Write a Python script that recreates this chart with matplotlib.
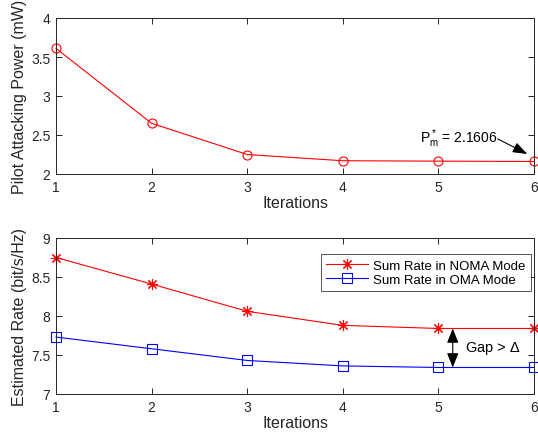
import matplotlib
matplotlib.use('Agg')
import matplotlib.pyplot as plt
import numpy as np

plt.rcParams['font.family'] = ['Liberation Sans', 'DejaVu Sans']
plt.rcParams['mathtext.fontset'] = 'custom'
plt.rcParams['mathtext.rm'] = 'Liberation Sans'
plt.rcParams['mathtext.it'] = 'Liberation Sans'

# datos
iteraciones = [1, 2, 3, 4, 5, 6]
potencia = [3.61, 2.65, 2.25, 2.17, 2.165, 2.1606]
tasa_noma = [8.75, 8.41, 8.06, 7.88, 7.84, 7.84]
tasa_oma = [7.73, 7.58, 7.43, 7.36, 7.34, 7.34]

gris = '#262626'
W, H = 538, 439

fig = plt.figure(figsize=(W / 100, H / 100), dpi=100)

def ejes(y0, y1):
    # posicion en pixeles -> fraccion de figura
    return fig.add_axes([56 / W, 1 - y1 / H, (534 - 56) / W, (y1 - y0) / H])

def estilo(ax):
    for s in ax.spines.values():
        s.set_color(gris)
        s.set_linewidth(0.7)
    ax.tick_params(direction='in', top=True, right=True, length=4,
                   width=0.7, colors=gris, labelsize=10, pad=4)
    ax.set_xlim(1, 6)
    ax.set_xticks(iteraciones)
    ax.set_xlabel('Iterations', fontsize=11.5, color=gris, labelpad=1)

flecha = '-|>,head_length=0.55,head_width=0.2'
flecha_doble = '<|-|>,head_length=0.55,head_width=0.22'

# grafica de arriba
ax1 = ejes(19, 175)
ax1.plot(iteraciones, potencia, color='r', lw=0.8, marker='o', ms=6.5,
         mfc='none', mec='r', mew=0.8, clip_on=False)
ax1.set_ylim(2, 4)
ax1.set_yticks([2, 2.5, 3, 3.5, 4])
ax1.set_yticklabels(['2', '2.5', '3', '3.5', '4'])
ax1.set_ylabel('Pilot Attacking Power (mW)', fontsize=11.5, color=gris, labelpad=3)
estilo(ax1)
ax1.text(5.62, 2.47, r'P$_m^*$ = 2.1606', ha='right', va='center',
         fontsize=10, color='k')
ax1.annotate('', xy=(5.93, 2.256), xytext=(5.62, 2.45),
             arrowprops=dict(arrowstyle=flecha, color='k', lw=0.8,
                             mutation_scale=16, shrinkA=0, shrinkB=0))

# grafica de abajo
ax2 = ejes(239, 395)
ax2.plot(iteraciones, tasa_noma, color='r', lw=0.8, marker=(8, 2, 0), ms=8,
         mew=0.8, label='Sum Rate in NOMA Mode', clip_on=False)
ax2.plot(iteraciones, tasa_oma, color='b', lw=0.8, marker='s', ms=6.5,
         mfc='none', mec='b', mew=0.8, label='Sum Rate in OMA Mode', clip_on=False)
ax2.set_ylim(7, 9)
ax2.set_yticks([7, 7.5, 8, 8.5, 9])
ax2.set_yticklabels(['7', '7.5', '8', '8.5', '9'])
ax2.set_ylabel('Estimated Rate (bit/s/Hz)', fontsize=11.5, color=gris, labelpad=3)
estilo(ax2)
ax2.annotate('', xy=(5.15, tasa_oma[4]), xytext=(5.15, tasa_noma[4]),
             arrowprops=dict(arrowstyle=flecha_doble, color='k', lw=0.8,
                             mutation_scale=16, shrinkA=0, shrinkB=0))
ax2.text(5.28, (tasa_oma[4] + tasa_noma[4]) / 2, r'Gap > $\Delta$',
         ha='left', va='center', fontsize=10.5, color='k')
leg = ax2.legend(loc='upper right', bbox_to_anchor=(0.994, 0.895),
                 fontsize=9.5, frameon=True, fancybox=False,
                 edgecolor=gris, borderaxespad=0, handlelength=3.2,
                 borderpad=0.4, labelspacing=0.15, handletextpad=0.4)
leg.get_frame().set_linewidth(0.7)

fig.savefig('out.png', dpi=100)
